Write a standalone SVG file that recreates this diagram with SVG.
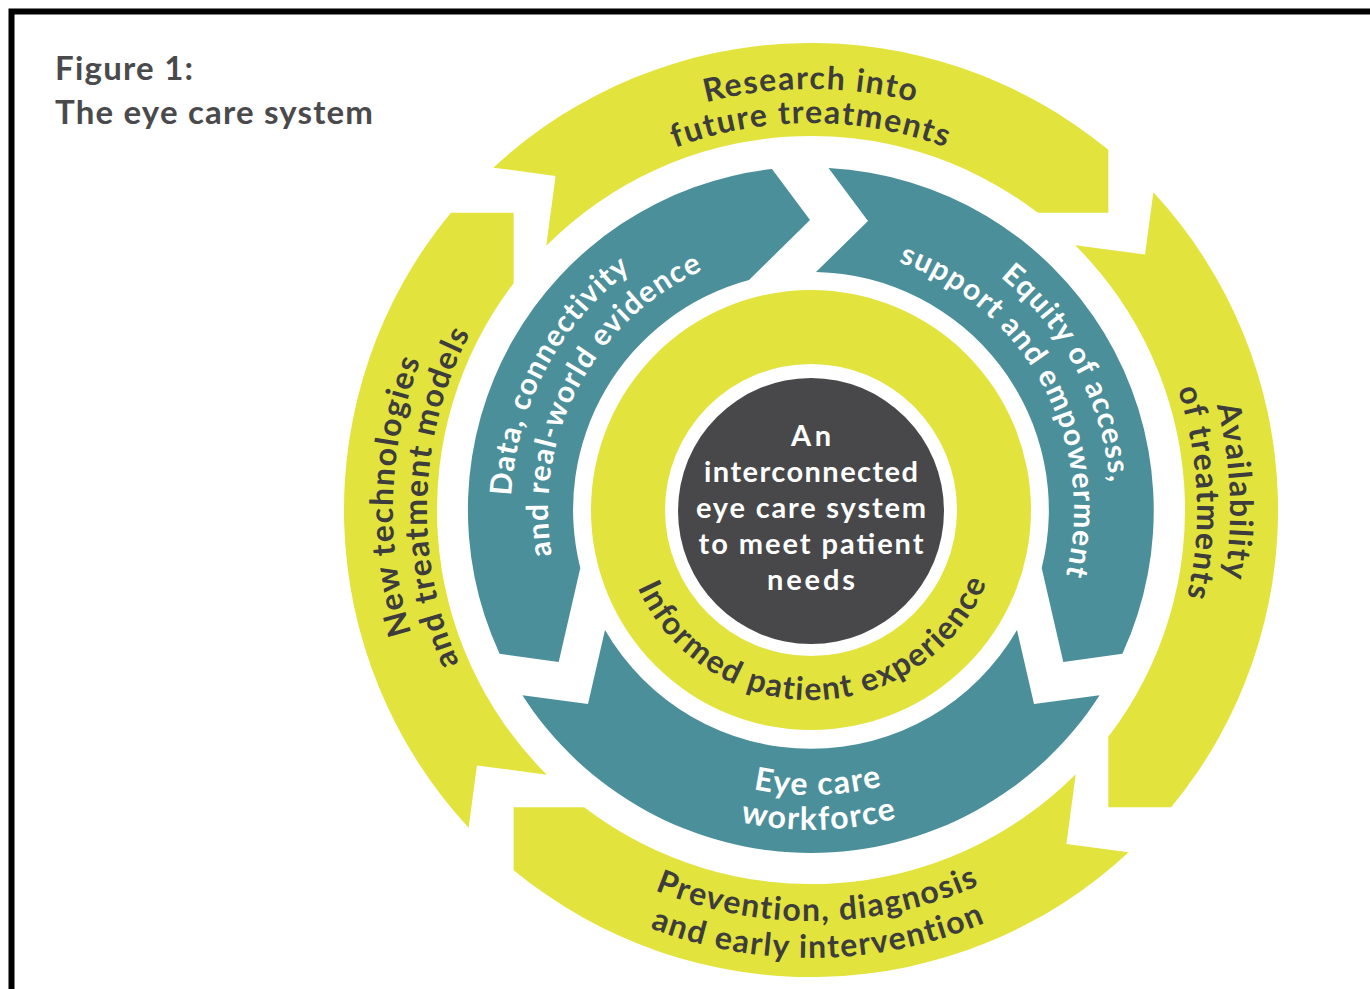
<svg xmlns="http://www.w3.org/2000/svg" width="1370" height="989" viewBox="0 0 1370 989">
  <style>
    .yl{fill:#e2e33c}
    .tl{fill:#4b8f9a}
    .lbl{font-family:Lato,"Open Sans","Liberation Sans",sans-serif;font-weight:700}
    .dk{fill:#3d3d3d}
    .wt{fill:#ffffff}
    .ring-o{font-size:32px;letter-spacing:1.5px}
    .ring-m{font-size:30px;letter-spacing:1.2px}
  </style>
  <defs>
    <!-- one outer-ring arrow: tip at angle 0, notched tail 82.4 degrees back -->
    <path id="outer-arrow" d="M17.48,-466.69 A467,467 0 0 1 464.9,-44.4 L420.5,0 L370.67,-49.83 A374,374 0 0 0 -0.37,-374.01 L55.62,-416.81 Z"/>
    <!-- baselines for curved labels -->
    <path id="p-top-o" d="M446.4,299.5 A421,421 0 0 1 1175.6,299.5"/>
    <path id="p-top-i" d="M475.9,316.5 A387,387 0 0 1 1146.1,316.5"/>
    <path id="p-left-o" d="M589.5,864.5 A418,418 0 0 1 614.7,140.9"/>
    <path id="p-left-i" d="M607.5,835.6 A384,384 0 0 1 630.7,171"/>
    <path id="p-right-o" d="M1004.4,138.3 A419,419 0 0 1 1036.1,863.4"/>
    <path id="p-right-i" d="M989.2,167.6 A386,386 0 0 1 1018.4,835.5"/>
    <path id="p-bot-i" d="M458.7,721.7 A411,411 0 0 0 1170.5,709.3"/>
    <path id="p-bot-o" d="M427,740.7 A448,448 0 0 0 1202.8,727.2"/>
    <path id="p-data-o" d="M556.6,669 A300,300 0 0 1 800.5,210.2"/>
    <path id="p-data-i" d="M588,649.4 A263,263 0 0 1 801.8,247.2"/>
    <path id="p-eq-o" d="M821.5,210.2 A300,300 0 0 1 1065.4,669"/>
    <path id="p-eq-i" d="M820.2,247.2 A263,263 0 0 1 1034,649.4"/>
    <path id="p-wf-1" d="M568,658.9 A285,285 0 0 0 1061.5,646"/>
    <path id="p-wf-2" d="M538.2,677.2 A320,320 0 0 0 1092.2,662.7"/>
    <path id="p-inner" d="M623.9,543 A190,190 0 0 0 999.2,536.4"/>
  </defs>

  <rect width="1370" height="989" fill="#ffffff"/>
  <!-- frame -->
  <rect x="11.5" y="11.5" width="1400" height="1000" fill="none" stroke="#000000" stroke-width="6"/>

  <g id="title" class="lbl" fill="#4a4a4c" font-size="33">
    <text x="55" y="80" textLength="138">Figure 1:</text>
    <text x="55" y="124" textLength="318">The eye care system</text>
  </g>

  <!-- outer ring -->
  <g id="research">
    <use href="#outer-arrow" class="yl" transform="translate(811 510) rotate(315)"/>
    <text class="lbl dk ring-o"><textPath href="#p-top-o" startOffset="50%" text-anchor="middle">Research into</textPath></text>
    <text class="lbl dk ring-o"><textPath href="#p-top-i" startOffset="50%" text-anchor="middle">future treatments</textPath></text>
  </g>
  <g id="availability">
    <use href="#outer-arrow" class="yl" transform="translate(811 510) rotate(45)"/>
    <text class="lbl dk ring-o"><textPath href="#p-right-o" startOffset="50%" text-anchor="middle">Availability</textPath></text>
    <text class="lbl dk ring-o"><textPath href="#p-right-i" startOffset="50%" text-anchor="middle">of treatments</textPath></text>
  </g>
  <g id="prevention">
    <use href="#outer-arrow" class="yl" transform="translate(811 510) rotate(135)"/>
    <text class="lbl dk ring-o"><textPath href="#p-bot-i" startOffset="50%" text-anchor="middle">Prevention, diagnosis</textPath></text>
    <text class="lbl dk ring-o"><textPath href="#p-bot-o" startOffset="50%" text-anchor="middle">and early intervention</textPath></text>
  </g>
  <g id="technologies">
    <use href="#outer-arrow" class="yl" transform="translate(811 510) rotate(225)"/>
    <text class="lbl dk ring-o"><textPath href="#p-left-o" startOffset="50%" text-anchor="middle">New technologies</textPath></text>
    <text class="lbl dk ring-o"><textPath href="#p-left-i" startOffset="50%" text-anchor="middle">and treatment models</textPath></text>
  </g>

  <!-- middle ring -->
  <g id="data">
    <path class="tl" d="M499.6,653.8 A343,343 0 0 1 772,169 L810,220 L749,280 A238,238 0 0 0 580.3,568 L558.7,661.9 Z"/>
    <text class="lbl wt ring-m"><textPath href="#p-data-o" startOffset="50%" text-anchor="middle">Data, connectivity</textPath></text>
    <text class="lbl wt ring-m"><textPath href="#p-data-i" startOffset="50%" text-anchor="middle">and real-world evidence</textPath></text>
  </g>
  <g id="equity">
    <path class="tl" d="M828.5,168 A343,343 0 0 1 1122.4,653.8 L1063.3,661.9 L1041.7,567.9 A238,238 0 0 0 816,272 L868,221 Z"/>
    <text class="lbl wt ring-m"><textPath href="#p-eq-o" startOffset="50%" text-anchor="middle">Equity of access,</textPath></text>
    <text class="lbl wt ring-m"><textPath href="#p-eq-i" startOffset="50%" text-anchor="middle">support and empowerment</textPath></text>
  </g>
  <g id="workforce">
    <path class="tl" d="M1099.6,695.3 A343,343 0 0 1 522.4,695.3 L588,704 L605,630 A238,238 0 0 0 1017,630 L1034,704 Z"/>
    <text class="lbl wt ring-o"><textPath href="#p-wf-1" startOffset="50%" text-anchor="middle">Eye care</textPath></text>
    <text class="lbl wt ring-o"><textPath href="#p-wf-2" startOffset="50%" text-anchor="middle">workforce</textPath></text>
  </g>

  <!-- inner ring -->
  <g id="patient-experience">
    <circle class="yl" cx="811" cy="510" r="220"/>
    <circle fill="#ffffff" cx="811" cy="510" r="146"/>
    <text class="lbl dk ring-o"><textPath href="#p-inner" startOffset="50%" text-anchor="middle">Informed patient experience</textPath></text>
  </g>

  <!-- hub -->
  <g id="hub">
    <circle fill="#48484a" cx="811" cy="511" r="133"/>
    <g class="lbl wt" font-size="29" text-anchor="middle">
      <text x="811" y="446" textLength="40">An</text>
      <text x="811" y="482" textLength="214">interconnected</text>
      <text x="811" y="518" textLength="230">eye care system</text>
      <text x="811" y="554" textLength="225">to meet patient</text>
      <text x="811" y="590" textLength="88">needs</text>
    </g>
  </g>
</svg>
